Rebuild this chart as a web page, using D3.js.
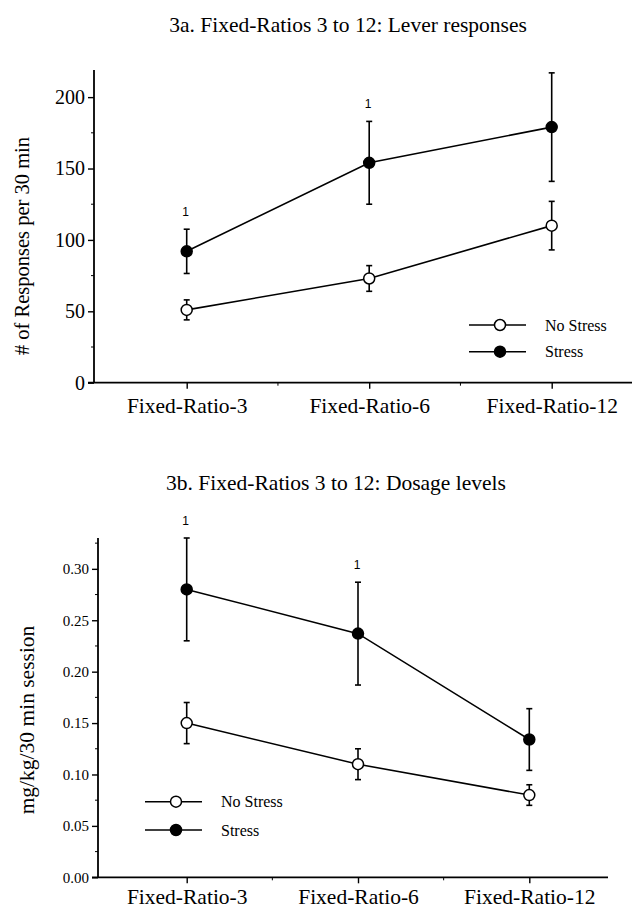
<!DOCTYPE html>
<html>
<head>
<meta charset="utf-8">
<script src="https://cdn.jsdelivr.net/npm/d3@7"></script>
<style>
	body { margin: 0; background: #fff; }
	svg { display: block; }
	text { font-family: 'Liberation Serif', 'Times New Roman', serif; fill: #000; }
	.sig { font-family: 'Liberation Sans', Arial, sans-serif; font-size: 12px; }
</style>
</head>
<body>
<svg id="chart" width="640" height="909"></svg>
<script>
'use strict';

var categories = ['Fixed-Ratio-3', 'Fixed-Ratio-6', 'Fixed-Ratio-12'];

var leverNoStress    = [51, 73, 110];
var leverNoStressErr = [7, 9, 17];
var leverStress      = [92, 154, 179];
var leverStressErr   = [15.5, 29, 38];
var leverSig         = ['1', '1', ''];
var leverTicks       = [0, 50, 100, 150, 200];

var doseNoStress    = [0.15, 0.11, 0.08];
var doseNoStressErr = [0.02, 0.015, 0.01];
var doseStress      = [0.28, 0.237, 0.134];
var doseStressErr   = [0.05, 0.05, 0.03];
var doseSig         = ['1', '1', ''];
var doseTicks       = [0, 0.05, 0.10, 0.15, 0.20, 0.25, 0.30];

var svg = d3.select('#chart');

function drawPanel(cfg) {
	var g = svg.append('g');

	var x = d3.scalePoint()
		.domain(categories)
		.range(cfg.xRange);

	var y = d3.scaleLinear()
		.domain([0, cfg.yMax])
		.range([cfg.bottom, cfg.top]);

	// title
	g.append('text')
		.attr('x', cfg.titleX)
		.attr('y', cfg.titleY)
		.attr('text-anchor', 'middle')
		.style('font-size', '21.5px')
		.text(cfg.title);

	// y axis
	var yAxis = d3.axisLeft(y)
		.tickValues(cfg.ticks)
		.tickSize(6)
		.tickSizeOuter(0)
		.tickPadding(3)
		.tickFormat(cfg.fmt);

	var ya = g.append('g')
		.attr('transform', 'translate(' + cfg.left + ',0)')
		.call(yAxis);

	ya.select('.domain').remove();
	ya.selectAll('line').attr('stroke-width', 1.4);
	ya.selectAll('text')
		.style('font-family', "'Liberation Serif', serif")
		.style('font-size', cfg.yTickSize);

	g.append('line')
		.attr('x1', cfg.left).attr('x2', cfg.left)
		.attr('y1', cfg.bottom).attr('y2', cfg.top)
		.attr('stroke', '#000').attr('stroke-width', 1.8);

	// minor y ticks
	var minor = d3.range(cfg.minorStep, cfg.yMax, cfg.minorStep)
		.filter(function (v) {
			return cfg.ticks.every(function (t) { return Math.abs(t - v) > 1e-9; });
		});

	g.selectAll('.minor-y').data(minor)
		.enter().append('line')
		.attr('class', 'minor-y')
		.attr('x1', cfg.left - 3).attr('x2', cfg.left)
		.attr('y1', function (d) { return y(d); })
		.attr('y2', function (d) { return y(d); })
		.attr('stroke', '#000');

	// x axis
	var xAxis = d3.axisBottom(x)
		.tickSize(6)
		.tickSizeOuter(0)
		.tickPadding(cfg.xPad);

	var xa = g.append('g')
		.attr('transform', 'translate(0,' + cfg.bottom + ')')
		.call(xAxis);

	xa.select('.domain').remove();
	xa.selectAll('line').attr('stroke-width', 1.4);
	xa.selectAll('text')
		.style('font-family', "'Liberation Serif', serif")
		.style('font-size', '21.5px');

	g.append('line')
		.attr('x1', cfg.left - 6).attr('x2', cfg.right)
		.attr('y1', cfg.bottom).attr('y2', cfg.bottom)
		.attr('stroke', '#000').attr('stroke-width', 1.8);

	// minor x ticks halfway between categories
	var mids = d3.pairs(categories).map(function (p) {
		return (x(p[0]) + x(p[1])) / 2;
	});

	g.selectAll('.minor-x').data(mids)
		.enter().append('line')
		.attr('class', 'minor-x')
		.attr('x1', function (d) { return d; })
		.attr('x2', function (d) { return d; })
		.attr('y1', cfg.bottom).attr('y2', cfg.bottom + 3)
		.attr('stroke', '#000');

	// y axis label
	g.append('text')
		.attr('transform', 'translate(' + cfg.yLabelX + ',' + cfg.yLabelY + ') rotate(-90)')
		.attr('text-anchor', 'middle')
		.style('font-size', cfg.yLabelSize)
		.text(cfg.yLabel);

	var line = d3.line()
		.x(function (d, i) { return x(categories[i]); })
		.y(function (d) { return y(d); });

	cfg.series.forEach(function (s) {
		g.append('path')
			.datum(s.values)
			.attr('d', line)
			.attr('fill', 'none')
			.attr('stroke', '#000')
			.attr('stroke-width', 1.6);

		var err = g.selectAll(null).data(s.values)
			.enter().append('g');

		err.append('line')
			.attr('x1', function (d, i) { return x(categories[i]); })
			.attr('x2', function (d, i) { return x(categories[i]); })
			.attr('y1', function (d, i) { return y(d - s.err[i]); })
			.attr('y2', function (d, i) { return y(d + s.err[i]); })
			.attr('stroke', '#000').attr('stroke-width', 1.6);

		[-1, 1].forEach(function (sign) {
			err.append('line')
				.attr('x1', function (d, i) { return x(categories[i]) - 3; })
				.attr('x2', function (d, i) { return x(categories[i]) + 3; })
				.attr('y1', function (d, i) { return y(d + sign * s.err[i]); })
				.attr('y2', function (d, i) { return y(d + sign * s.err[i]); })
				.attr('stroke', '#000').attr('stroke-width', 1.6);
		});

		g.selectAll(null).data(s.values)
			.enter().append('circle')
			.attr('cx', function (d, i) { return x(categories[i]); })
			.attr('cy', function (d) { return y(d); })
			.attr('r', cfg.r)
			.attr('fill', s.filled ? '#000' : '#fff')
			.attr('stroke', '#000')
			.attr('stroke-width', 1.5);
	});

	// significance marks above the stress series
	var stress = cfg.series[1];

	g.selectAll('.sig').data(cfg.sig)
		.enter().append('text')
		.attr('class', 'sig')
		.attr('x', function (d, i) { return x(categories[i]) - 1; })
		.attr('y', function (d, i) { return y(stress.values[i] + stress.err[i]) - 13; })
		.attr('text-anchor', 'middle')
		.text(function (d) { return d; });

	// legend
	var leg = g.selectAll('.legend').data(cfg.series)
		.enter().append('g')
		.attr('class', 'legend')
		.attr('transform', function (d, i) {
			return 'translate(' + cfg.legendX + ',' + (cfg.legendY + i * cfg.legendGap) + ')';
		});

	leg.append('line')
		.attr('x1', 0).attr('x2', 57)
		.attr('stroke', '#000').attr('stroke-width', 1.6);

	leg.append('circle')
		.attr('cx', 31)
		.attr('r', 5.5)
		.attr('fill', function (d) { return d.filled ? '#000' : '#fff'; })
		.attr('stroke', '#000')
		.attr('stroke-width', 1.5);

	leg.append('text')
		.attr('x', 76)
		.attr('dy', '0.35em')
		.style('font-size', '16px')
		.text(function (d) { return d.name; });
}

drawPanel({
	title     : '3a. Fixed-Ratios 3 to 12: Lever responses',
	titleX    : 348,
	titleY    : 32,
	xRange    : [186.7, 551.7],
	left      : 94,
	right     : 632,
	top       : 70,
	bottom    : 382.7,
	yMax      : 219,
	ticks     : leverTicks,
	minorStep : 25,
	fmt       : d3.format('d'),
	yTickSize : '20px',
	xPad      : 9,
	yLabel    : '# of Responses per 30 min',
	yLabelSize: '20.5px',
	yLabelX   : 29,
	yLabelY   : 246,
	r         : 5.5,
	sig       : leverSig,
	legendX   : 469,
	legendY   : 325,
	legendGap : 26.7,
	series    : [
		{ name: 'No Stress', values: leverNoStress, err: leverNoStressErr, filled: false },
		{ name: 'Stress', values: leverStress, err: leverStressErr, filled: true }
	]
});

drawPanel({
	title     : '3b. Fixed-Ratios 3 to 12: Dosage levels',
	titleX    : 336,
	titleY    : 490,
	xRange    : [186.7, 529.3],
	left      : 98,
	right     : 608,
	top       : 538,
	bottom    : 877.3,
	yMax      : 0.33,
	ticks     : doseTicks,
	minorStep : 0.025,
	fmt       : d3.format('.2f'),
	yTickSize : '15px',
	xPad      : 5,
	yLabel    : 'mg/kg/30 min session',
	yLabelSize: '21.5px',
	yLabelX   : 34,
	yLabelY   : 720,
	r         : 5.5,
	sig       : doseSig,
	legendX   : 145,
	legendY   : 801.7,
	legendGap : 28.3,
	series    : [
		{ name: 'No Stress', values: doseNoStress, err: doseNoStressErr, filled: false },
		{ name: 'Stress', values: doseStress, err: doseStressErr, filled: true }
	]
});
</script>
</body>
</html>
